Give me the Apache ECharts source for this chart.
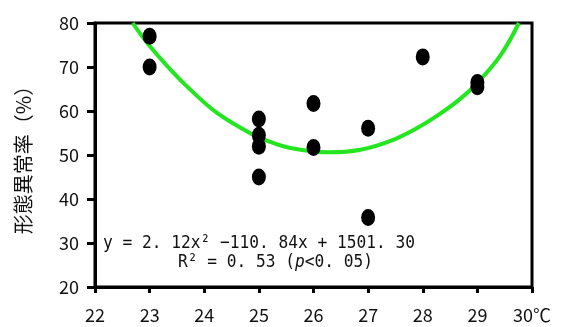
<!DOCTYPE html>
<html><head><meta charset="utf-8">
<script src="https://cdn.jsdelivr.net/npm/echarts@6/dist/echarts.min.js"></script>
<style>html,body{margin:0;padding:0;background:#fff}#c{width:568px;height:327px}</style>
</head><body><div id="c"></div>
<script>
// Observed points (temperature °C, malformation rate %)
const obsTemp = [23, 23, 25, 25, 25, 25, 26, 26, 27, 27, 28, 29, 29];
const obsRate = [77, 70, 58.2, 54.5, 52, 45, 61.7, 51.7, 56.1, 35.8, 72.3, 66.5, 65.5];
// Fitted curve
const curveTemp = [22.69, 22.96, 23.39, 23.75, 24.24, 24.85, 25.12, 25.58, 26.31, 26.86, 27.41, 27.92, 28.32, 28.68, 28.99, 29.42, 29.76];
const curveRate = [80, 75.4, 69.3, 64.8, 59.5, 54.9, 53.4, 51.6, 50.6, 51.2, 53.2, 56.3, 59.4, 62.7, 66.3, 72.6, 80];
// Axis ticks
const xTicks = [22, 23, 24, 25, 26, 27, 28, 29, 30];
const yTicks = [20, 30, 40, 50, 60, 70, 80];
const yName = '形態異常率（%）';
const eqLine1 = 'y = 2. 12x² −110. 84x + 1501. 30';

const font = "'Noto Sans CJK JP', 'Liberation Sans', sans-serif";
const mono = "'DejaVu Sans Mono', 'Liberation Mono', monospace";
const chart = echarts.init(document.getElementById('c'), null, {renderer: 'canvas'});
chart.setOption({
  animation: false,
  grid: {left: 95, right: 36, top: 23, bottom: 40, show: true, borderColor: '#000', borderWidth: 3},
  xAxis: {
    type: 'value', min: xTicks[0], max: xTicks[xTicks.length - 1], interval: 1,
    axisLine: {lineStyle: {color: '#000', width: 3}},
    axisTick: {show: true, inside: false, length: 6, lineStyle: {color: '#000', width: 3}},
    splitLine: {show: false},
    axisLabel: {color: '#111', fontSize: 18, fontFamily: font, margin: 19,
      formatter: v => v === 30 ? v + '℃' : String(v)}
  },
  yAxis: {
    type: 'value', min: yTicks[0], max: yTicks[yTicks.length - 1], interval: 10,
    name: yName, nameLocation: 'middle', nameGap: 62, nameRotate: 90,
    nameTextStyle: {color: '#111', fontSize: 20, fontFamily: font},
    axisLine: {lineStyle: {color: '#000', width: 3}},
    axisTick: {show: true, inside: false, length: 8, lineStyle: {color: '#000', width: 3}},
    splitLine: {show: false},
    axisLabel: {color: '#111', fontSize: 18, fontFamily: font, margin: 16}
  },
  series: [
    {type: 'line', data: curveTemp.map((t, i) => [t, curveRate[i]]), smooth: 0.4, showSymbol: false,
     lineStyle: {color: '#22e61e', width: 4}, z: 2, clip: true},
    {type: 'scatter', data: obsTemp.map((t, i) => [t, obsRate[i]]), symbol: 'circle', symbolSize: [14, 17],
     itemStyle: {color: '#000', opacity: 1}, z: 3}
  ],
  graphic: [
    {type: 'text', x: 103, y: 234, scaleX: 0.9, style: {text: eqLine1, fontSize: 18, fontFamily: mono, fill: '#111', verticalAlign: 'top'}},
    {type: 'text', x: 178, y: 253, scaleX: 0.9, style: {
      text: '{a|R² = 0. 53 (}{i|p}{a|<0. 05)}', verticalAlign: 'top',
      rich: {a: {fontSize: 18, fontFamily: mono, fill: '#111'}, i: {fontSize: 18, fontFamily: mono, fontStyle: 'italic', fill: '#111'}}
    }}
  ]
});
</script></body></html>
